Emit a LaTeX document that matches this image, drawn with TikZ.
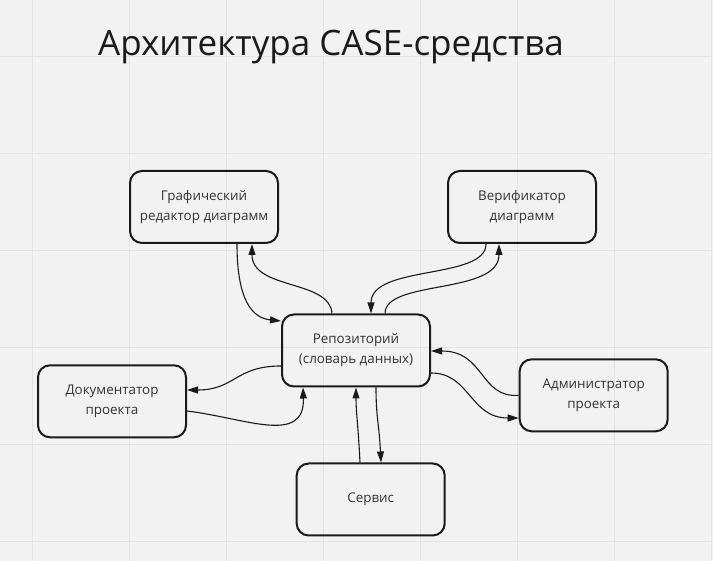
\documentclass[tikz,border=0pt]{standalone}
\usepackage{fontspec}
\setmainfont{Open Sans}
\usetikzlibrary{arrows.meta}
\definecolor{bg}{HTML}{F2F2F2}
\definecolor{gridc}{HTML}{E4E4E4}
\definecolor{txt}{HTML}{333333}
\definecolor{ink}{HTML}{1A1A1A}
\begin{document}
\begin{tikzpicture}[x=1pt,y=1pt,
  box/.style={draw=ink, line width=2pt, rounded corners=12pt, minimum width=148pt, minimum height=72pt,
    align=center, font=\fontsize{13.4}{20}\selectfont, text=txt, inner sep=0pt},
  link/.style={draw=ink, line width=1.1pt, -{Triangle[length=11pt,width=7pt]}},
  gridline/.style={draw=gridc, line width=1pt}]
\fill[bg] (0,0) rectangle (713,561);
\useasboundingbox (0,0) rectangle (713,561);
\foreach \gx in {32,129,...,711} \draw[gridline] (\gx,0) -- (\gx,561);
\foreach \gy in {19,116,...,504} \draw[gridline] (0,\gy) -- (713,\gy);

\node[anchor=base west, font=\fontsize{35}{40}\selectfont, text=ink, inner sep=0pt] (title) at (98,505.3) {Архитектура CASE-средства};

\node[box] (g) at (204,354) {Графический\\редактор диаграмм};
\node[box] (v) at (522,354) {Верификатор\\диаграмм};
\node[box] (r) at (356,210.5) {Репозиторий\\(словарь данных)};
\node[box] (d) at (112,159.7) {Документатор\\проекта};
\node[box] (a) at (593.7,165.7) {Администратор\\проекта};
\node[box] (s) at (370.7,61.5) {Сервис};

% Graph editor <-> repository
\draw[link] ([xshift=33pt]g.south) .. controls +(0,-56) and +(-29,3) .. ([yshift=29.5pt]r.west);
\draw[link] ([xshift=-24pt]r.north) .. controls +(-2,34) and +(0,-46) .. ([xshift=48pt]g.south);
% Verifier <-> repository
\draw[link] ([xshift=-36pt]v.south) .. controls +(0,-36) and +(0,49) .. ([xshift=15pt]r.north);
\draw[link] ([xshift=29pt]r.north) .. controls +(0,34) and +(0,-51) .. ([xshift=-23pt]v.south);
% Repository <-> documentator
\draw[link] ([yshift=-15.5pt]r.west) .. controls +(-46,0) and +(48,0) .. ([yshift=11.3pt]d.east);
\draw[link] ([yshift=-9.7pt]d.east) .. controls +(58,-7) and +(2,-58) .. ([xshift=-53pt]r.south);
% Service <-> repository
\draw[link] ([xshift=-10.7pt]s.north) .. controls +(-2,40) and +(0,-25) .. ([xshift=0pt]r.south);
\draw[link] ([xshift=20pt]r.south) .. controls +(0,-30) and +(-2,40) .. ([xshift=10.3pt]s.north);
% Administrator <-> repository
\draw[link] (a.west) .. controls +(-39,-3) and +(54,0) .. ([yshift=-0.5pt]r.east);
\draw[link] ([yshift=-22.5pt]r.east) .. controls +(39,0) and +(-49,0) .. ([yshift=-22.7pt]a.west);
\end{tikzpicture}
\end{document}
